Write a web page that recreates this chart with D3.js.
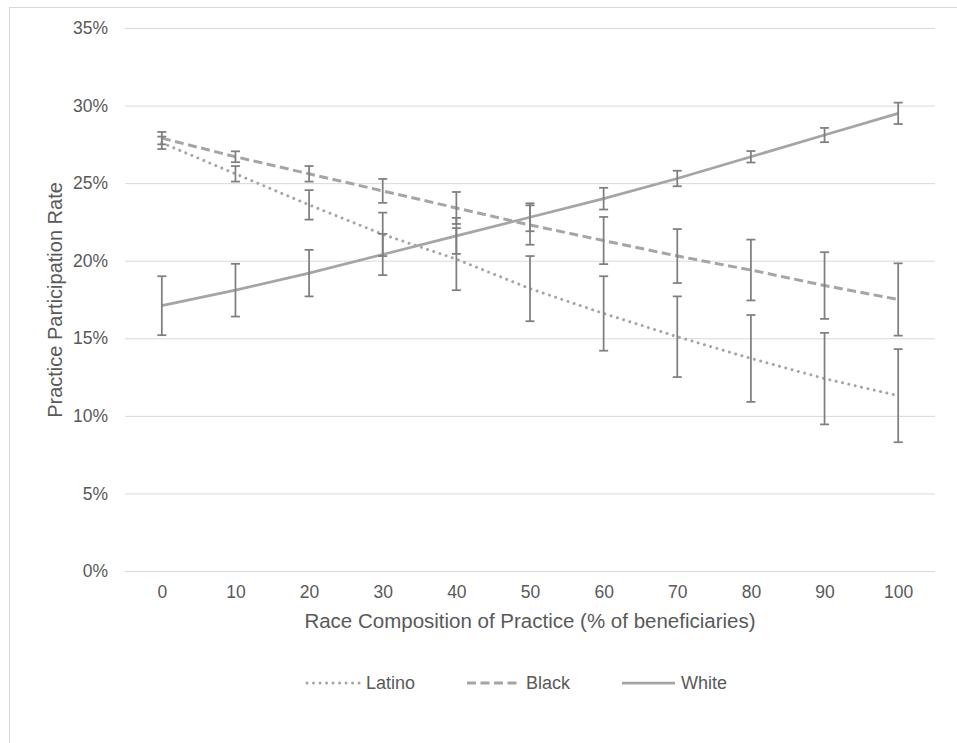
<!DOCTYPE html>
<html>
<head>
<meta charset="utf-8">
<script src="https://cdn.jsdelivr.net/npm/d3@7"></script>
<style>
  body { margin: 0; background: #fff; }
  text { font-family: "Liberation Sans", Arial, sans-serif; fill: #595959; }
</style>
</head>
<body>
<div id="chart"></div>
<script>
// data (percent)
const categories = [0, 10, 20, 30, 40, 50, 60, 70, 80, 90, 100];
const latino = [27.6, 25.6, 23.6, 21.7, 20.1, 18.2, 16.6, 15.1, 13.7, 12.4, 11.3];
const latinoErr = [0.4, 0.5, 0.95, 1.4, 2.0, 2.1, 2.4, 2.6, 2.8, 2.95, 3.0];
const black = [27.9, 26.7, 25.6, 24.5, 23.4, 22.3, 21.3, 20.3, 19.4, 18.4, 17.5];
const blackErr = [0.4, 0.35, 0.5, 0.77, 1.03, 1.27, 1.52, 1.74, 1.96, 2.15, 2.33];
const white = [17.1, 18.1, 19.2, 20.4, 21.6, 22.8, 24.0, 25.3, 26.7, 28.1, 29.5];
const whiteErr = [1.9, 1.7, 1.5, 1.33, 1.16, 0.9, 0.7, 0.5, 0.37, 0.46, 0.69];
const yTicks = [0, 5, 10, 15, 20, 25, 30, 35];

const series = [
    { name: "Latino", values: latino, err: latinoErr, dash: "0.01 6.5", width: 3, cap: "round" },
    { name: "Black", values: black, err: blackErr, dash: "9 4.5", width: 3, cap: "butt" },
    { name: "White", values: white, err: whiteErr, dash: null, width: 2.75, cap: "butt" }
];

const W = 957, H = 743;
const plot = { left: 125, right: 935, top: 28, bottom: 571 };

const svg = d3.select("#chart").append("svg")
    .attr("width", W)
    .attr("height", H);

// chart frame
svg.append("rect")
    .attr("x", 9.5).attr("y", 7.5)
    .attr("width", 1000).attr("height", 1000)
    .attr("fill", "none")
    .attr("stroke", "#d9d9d9");

const x = d3.scalePoint()
    .domain(categories)
    .range([plot.left, plot.right])
    .padding(0.5);

const y = d3.scaleLinear()
    .domain([0, 35])
    .range([plot.bottom, plot.top]);

// gridlines + y labels
const yAxis = svg.append("g")
    .attr("transform", `translate(${plot.left},0)`)
    .call(d3.axisLeft(y).tickValues(yTicks).tickSize(-(plot.right - plot.left)).tickPadding(17).tickFormat(d => d + "%"));
yAxis.select(".domain").remove();
yAxis.selectAll(".tick line").attr("stroke", "#d9d9d9").attr("stroke-width", 1);
yAxis.selectAll(".tick text").attr("font-size", 17.5).attr("fill", "#595959")
    .style("font-family", "Liberation Sans, Arial, sans-serif");

// x labels
const xAxis = svg.append("g")
    .attr("transform", `translate(0,${plot.bottom})`)
    .call(d3.axisBottom(x).tickSize(0).tickPadding(15));
xAxis.select(".domain").remove();
xAxis.selectAll(".tick text").attr("font-size", 17.5).attr("fill", "#595959")
    .style("font-family", "Liberation Sans, Arial, sans-serif");

// axis titles
svg.append("text")
    .attr("x", (plot.left + plot.right) / 2)
    .attr("y", 628)
    .attr("text-anchor", "middle")
    .attr("font-size", 20.5)
    .text("Race Composition of Practice (% of beneficiaries)");

svg.append("text")
    .attr("transform", "translate(62,300) rotate(-90)")
    .attr("text-anchor", "middle")
    .attr("font-size", 20)
    .text("Practice Participation Rate");

// lines
const line = d3.line()
    .x((d, i) => x(categories[i]))
    .y(d => y(d));

series.forEach(s => {
    svg.append("path")
        .datum(s.values)
        .attr("d", line)
        .attr("fill", "none")
        .attr("stroke", "#a5a5a5")
        .attr("stroke-width", s.width)
        .attr("stroke-linecap", s.cap)
        .attr("stroke-dasharray", s.dash);
});

// error bars
series.forEach(s => {
    const g = svg.append("g").attr("stroke", "#7f7f7f").attr("stroke-width", 1.75);
    s.values.forEach((v, i) => {
        const cx = x(categories[i]);
        const top = y(v + s.err[i]), bot = y(v - s.err[i]);
        g.append("line").attr("x1", cx).attr("x2", cx).attr("y1", top).attr("y2", bot);
        g.append("line").attr("x1", cx - 4.5).attr("x2", cx + 4.5).attr("y1", top).attr("y2", top);
        g.append("line").attr("x1", cx - 4.5).attr("x2", cx + 4.5).attr("y1", bot).attr("y2", bot);
    });
});

// legend
const legendX = [307, 467, 622];
const legend = svg.append("g");
series.forEach((s, i) => {
    legend.append("line")
        .attr("x1", legendX[i]).attr("x2", legendX[i] + 53)
        .attr("y1", 683).attr("y2", 683)
        .attr("stroke", "#a5a5a5")
        .attr("stroke-width", s.width)
        .attr("stroke-linecap", s.cap)
        .attr("stroke-dasharray", s.dash);
    legend.append("text")
        .attr("x", legendX[i] + 59)
        .attr("y", 683)
        .attr("dy", "0.35em")
        .attr("font-size", 18)
        .text(s.name);
});
</script>
</body>
</html>
